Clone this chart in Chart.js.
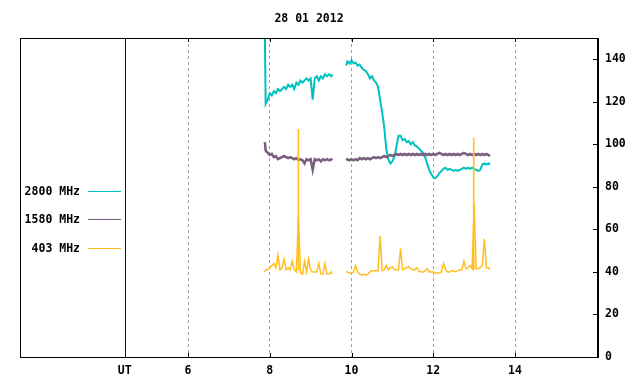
<!DOCTYPE html>
<html><head><meta charset="utf-8">
<script src="https://cdn.jsdelivr.net/npm/chart.js@4"></script>
<style>html,body{margin:0;padding:0;background:#fff}#wrap{width:640px;height:384px}</style>
</head><body><div id="wrap"><canvas id="c" width="640" height="384"></canvas></div>
<script>
const chartTitle = '28 01 2012';
const seriesNames = ['2800 MHz', '1580 MHz', '403 MHz'];
const xTickValues = [6, 8, 10, 12, 14];
const utLabel = 'UT';
const utHour = 4.45;
const yTickValues = [0, 20, 40, 60, 80, 100, 120, 140];

// time in hours UT (null value at 9.70 = data gap)
const hours = [
  7.88, 7.90, 7.95, 8.00, 8.05, 8.10, 8.15, 8.20, 8.25, 8.30,
  8.35, 8.40, 8.45, 8.50, 8.55, 8.60, 8.65, 8.70, 8.75, 8.80,
  8.85, 8.90, 8.95, 9.00, 9.05, 9.10, 9.15, 9.20, 9.25, 9.30,
  9.35, 9.40, 9.45, 9.50, 9.53,
  9.70,
  9.87, 9.90, 9.95, 10.00, 10.05, 10.10, 10.15, 10.20, 10.25, 10.30,
  10.35, 10.40, 10.45, 10.50, 10.55, 10.60, 10.65, 10.70, 10.75, 10.80,
  10.85, 10.90, 10.95, 11.00, 11.05, 11.10, 11.15, 11.20, 11.25, 11.30,
  11.35, 11.40, 11.45, 11.50, 11.55, 11.60, 11.65, 11.70, 11.75, 11.80,
  11.85, 11.90, 11.95, 12.00, 12.05, 12.10, 12.15, 12.20, 12.25, 12.30,
  12.35, 12.40, 12.45, 12.50, 12.55, 12.60, 12.65, 12.70, 12.75, 12.80,
  12.85, 12.90, 12.95, 13.00, 13.05, 13.10, 13.15, 13.20, 13.25, 13.30,
  13.35, 13.39
];

const mhz2800 = [
  152, 119, 121, 124, 123, 125, 124, 126, 125, 126,
  127, 126, 128, 127, 128, 126, 129, 128, 130, 129,
  130, 131, 130, 131, 121, 131, 132, 130, 132, 131,
  133, 132, 133, 132, 133,
  null,
  137, 139, 138, 139.5, 138, 138.5, 137, 137.5, 136, 135,
  134.5, 133, 131, 132, 130, 129, 127, 121, 115, 108,
  98, 93, 91, 92, 94, 99, 104, 104, 102, 102.5,
  101, 101.5, 100, 101, 99.5, 99, 98, 97, 96, 94,
  91, 88, 86, 84.5, 84, 85, 86.5, 87.5, 88.5, 89,
  88, 88.5, 88, 87.5, 88, 87.5, 88, 88.5, 89, 88.5,
  89, 88.5, 89, 88.5, 88, 87.5, 88, 90.5, 91, 90.5,
  91, 90.5
];

const mhz1580 = [
  101, 97, 96, 95, 95.5, 94, 94.5, 93, 93.5, 94,
  94.5, 94, 93.5, 94, 93.5, 93, 93.5, 92.5, 93, 92.5,
  91, 93, 92.5, 93, 88, 93, 92.5, 93, 92, 93,
  92.5, 93, 92.5, 93, 92.5,
  null,
  92.5, 93, 92.5, 93, 92.5, 93, 92.5, 93.5, 93, 93.5,
  93, 93.5, 93, 93.5, 94, 93.5, 94, 93.5, 94, 94.5,
  94, 94.5, 95, 94.5, 95, 95.5, 95, 95.5, 95, 95.5,
  95, 95.5, 95, 95.5, 95, 95.5, 95, 95.5, 95, 95.5,
  95, 95.5, 95, 95.5, 95, 95.5, 96, 95.5, 95, 95.5,
  95, 95.5, 95, 95.5, 95, 95.5, 95, 95.5, 96, 95.5,
  95, 95.5, 95, 95.5, 95, 95.5, 95, 95.5, 95, 95.5,
  95, 94.5
];

const mhz403 = [
  40, 41, 41, 42, 43, 44, 42, 48, 41, 42,
  46, 41, 42, 41, 45, 41, 40, 66, 40, 39,
  45, 40, 46, 41, 40, 40, 40, 44, 39, 39,
  44, 39, 39, 40, 39,
  null,
  40, 40, 39.5, 39.5, 40, 43, 40, 39, 38.5, 39,
  38.5, 39, 40, 40.5, 40.5, 40.5, 40.5, 57, 40.5, 41,
  43, 41, 42, 42.5, 41, 41, 41, 51, 41, 41.5,
  42, 42.5, 41.5, 41, 41, 42, 40.5, 40, 40, 40.5,
  41.5, 40, 40, 40, 39.5, 39.5, 39.5, 40, 44, 41,
  40, 40, 40.5, 40.5, 40, 40.5, 41, 41, 45, 41.5,
  42, 43, 41.5, 71.7, 41.5, 41.5, 42, 43, 55.6, 42,
  42, 41
];

// short single-sample bursts at 403 MHz
const burst403Hours = [8.70, 12.99];
const burst403Low = [41, 41];
const burst403High = [107, 103];

const COLORS = ['#00C0C0', '#7A5E80', '#FFBF20'];
const FONT = 'bold 11.5px "DejaVu Sans Mono"';

const pts = arr => hours.map((h, i) => ({x: h, y: arr[i]}));

const framePlugin = {
  id: 'frame',
  beforeDatasetsDraw(chart) {
    const {ctx, chartArea: a, scales: {x}} = chart;
    ctx.save();
    const ux = Math.round(x.getPixelForValue(utHour)) + 0.5;
    ctx.strokeStyle = '#500000';
    ctx.lineWidth = 1;
    ctx.beginPath(); ctx.moveTo(ux, a.top); ctx.lineTo(ux, a.bottom); ctx.stroke();
    // legend
    ctx.font = FONT;
    ctx.textAlign = 'right';
    ctx.textBaseline = 'middle';
    const rows = [191.5, 219.5, 248.5];
    seriesNames.forEach((n, i) => {
      ctx.fillStyle = '#000';
      ctx.fillText(n, a.left + 60, rows[i] + 1);
      ctx.strokeStyle = COLORS[i];
      ctx.beginPath(); ctx.moveTo(a.left + 68, rows[i]); ctx.lineTo(a.left + 101, rows[i]); ctx.stroke();
    });
    ctx.restore();
  },
  afterDraw(chart) {
    const {ctx, chartArea: a, scales: {x, y}} = chart;
    ctx.save();
    ctx.strokeStyle = '#000';
    ctx.lineWidth = 1;
    ctx.strokeRect(Math.round(a.left) + 0.5, Math.round(a.top) + 0.5,
      Math.round(a.right - a.left) - 1, Math.round(a.bottom - a.top));
    ctx.beginPath();
    xTickValues.forEach(v => {
      const px = Math.round(x.getPixelForValue(v)) + 0.5;
      ctx.moveTo(px, a.top); ctx.lineTo(px, a.top + 4);
      ctx.moveTo(px, a.bottom); ctx.lineTo(px, a.bottom - 4);
    });
    yTickValues.forEach(v => {
      const py = Math.round(y.getPixelForValue(v)) + 0.5;
      ctx.moveTo(a.right, py); ctx.lineTo(a.right - 5, py);
    });
    ctx.stroke();
    ctx.font = FONT;
    ctx.fillStyle = '#000';
    ctx.textAlign = 'center';
    ctx.textBaseline = 'middle';
    ctx.fillText(chartTitle, (a.left + a.right) / 2, 19);
    ctx.restore();
  }
};

new Chart(document.getElementById('c'), {
  type: 'line',
  data: {
    datasets: [
      {
        type: 'bar',
        label: '403 MHz bursts',
        data: burst403Hours.map((h, i) => ({x: h, y: [burst403Low[i], burst403High[i]]})),
        backgroundColor: COLORS[2],
        borderWidth: 0,
        barThickness: 1,
        grouped: false
      },
      {label: seriesNames[2], data: pts(mhz403), borderColor: COLORS[2], borderWidth: 1.5,
       pointRadius: 0, tension: 0, spanGaps: false, fill: false},
      {label: seriesNames[1], data: pts(mhz1580), borderColor: COLORS[1], borderWidth: 2.5,
       pointRadius: 0, tension: 0, spanGaps: false, fill: false},
      {label: seriesNames[0], data: pts(mhz2800), borderColor: COLORS[0], borderWidth: 2,
       pointRadius: 0, tension: 0, spanGaps: false, fill: false}
    ]
  },
  options: {
    responsive: false,
    animation: false,
    devicePixelRatio: 1,
    layout: {padding: {left: 20, top: 38, right: 0, bottom: 0}},
    plugins: {legend: {display: false}, title: {display: false}, tooltip: {enabled: false}},
    scales: {
      x: {
        type: 'linear', min: 1.89, max: 16.03, offset: false,
        afterBuildTicks: s => { s.ticks = [utHour, ...xTickValues].map(v => ({value: v})); },
        afterFit: s => { s.height = 27; },
        ticks: {
          autoSkip: false, maxRotation: 0, padding: 7, color: '#000',
          font: {family: 'DejaVu Sans Mono', size: 11.5, weight: 'bold'},
          callback: v => (v === utHour ? utLabel : String(v))
        },
        grid: {
          offset: false, drawTicks: false, lineWidth: 1,
          color: c => (c.tick && c.tick.value === utHour ? 'rgba(0,0,0,0)' : '#a0a0a0')
        },
        border: {display: true, color: '#000', dash: [3, 3]}
      },
      y: {
        position: 'right', min: 0, max: 150,
        afterBuildTicks: s => { s.ticks = yTickValues.map(v => ({value: v})); },
        afterFit: s => { s.width = 42; },
        ticks: {
          padding: 7, color: '#000',
          font: {family: 'DejaVu Sans Mono', size: 11.5, weight: 'bold'}
        },
        grid: {display: false, drawTicks: false},
        border: {display: true, color: '#000'}
      }
    }
  },
  plugins: [framePlugin]
});
</script>
</body></html>
